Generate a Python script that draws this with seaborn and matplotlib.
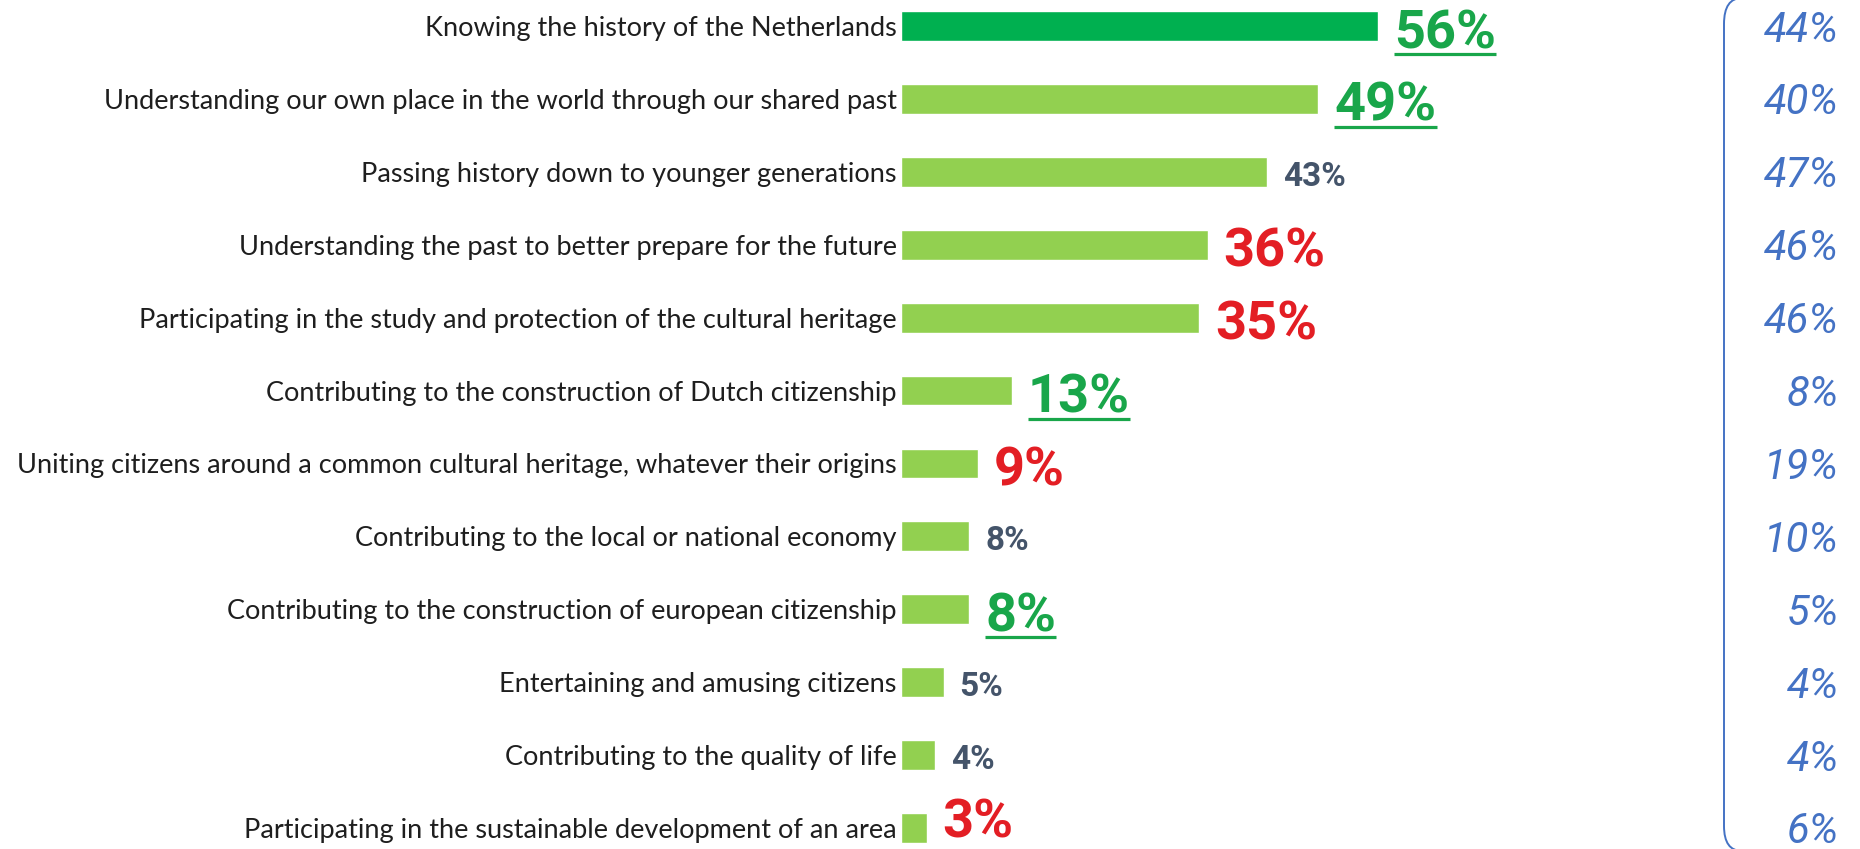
import numpy as np
import pandas as pd
import seaborn as sns
import matplotlib
matplotlib.use("Agg")
import matplotlib.pyplot as plt
from matplotlib.path import Path
from matplotlib.patches import PathPatch
from matplotlib.lines import Line2D
from matplotlib.transforms import ScaledTranslation, blended_transform_factory

# ---------------- data ----------------
categories = [
    "Knowing the history of the Netherlands",
    "Understanding our own place in the world through our shared past",
    "Passing history down to younger generations",
    "Understanding the past to better prepare for the future",
    "Participating in the study and protection of the cultural heritage",
    "Contributing to the construction of Dutch citizenship",
    "Uniting citizens around a common cultural heritage, whatever their origins",
    "Contributing to the local or national economy",
    "Contributing to the construction of european citizenship",
    "Entertaining and amusing citizens",
    "Contributing to the quality of life",
    "Participating in the sustainable development of an area",
]
values = [56, 49, 43, 36, 35, 13, 9, 8, 8, 5, 4, 3]
compare_values = [44, 40, 47, 46, 46, 8, 19, 10, 5, 4, 4, 6]
change = ["up", "up", "same", "down", "down", "up", "down", "same", "up", "same", "same", "down"]
value_labels = [f"{v}%" for v in values]
compare_labels = [f"{v}%" for v in compare_values]

# ---------------- layout ----------------
W, H, DPI = 1860, 849, 100
sns.set_theme(style="white")
plt.rcParams['font.family'] = ['Lato', 'DejaVu Sans']

fig = plt.figure(figsize=(W / DPI, H / DPI), dpi=DPI)
fig.patch.set_facecolor("white")
x0_px = 901
px_per_unit = 8.52
row_px = 72.9
ax = fig.add_axes([x0_px / W, 0, 1 - x0_px / W, 1])
ax.set_facecolor("white")

df = pd.DataFrame({"category": categories, "value": values})
bar_colors = ["#00B050"] + ["#92D050"] * (len(categories) - 1)
sns.barplot(data=df, x="value", y="category", hue="category", palette=bar_colors,
            legend=False, width=0.41, saturation=1, orient="h", ax=ax)

ax.set_xlim(0, (W - x0_px) / px_per_unit)
ax.set_ylim(11 + 21 / row_px, -26 / row_px)
for s in ax.spines.values():
    s.set_visible(False)
ax.set_xticks([])
ax.set_xlabel("")
ax.set_ylabel("")
ax.tick_params(axis="y", length=0, pad=3)
for lab in ax.get_yticklabels():
    lab.set_fontsize(19.5)
    lab.set_color("#1e1e1e")
    lab.set_family(["Lato", "DejaVu Sans"])

# ---------------- value labels ----------------
styles = {
    "up": dict(color="#19a64a", size=39, dy=22, under=True),
    "down": dict(color="#e31e24", size=39, dy=22, under=False),
    "same": dict(color="#44546a", size=24, dy=14, under=False),
}
texts = []
for i, (v, lab, ch) in enumerate(zip(values, value_labels, change)):
    st = styles[ch]
    tr = ax.transData + ScaledTranslation(16 / DPI, -st["dy"] / DPI, fig.dpi_scale_trans)
    t = ax.text(v, i, lab, transform=tr, ha="left", va="baseline",
                fontsize=st["size"], color=st["color"], fontweight="bold",
                family=["Roboto", "DejaVu Sans"])
    texts.append([t, tr, v, i, st])

# ---------------- right-hand comparison labels ----------------
btr = blended_transform_factory(fig.transFigure, ax.transData) + \
    ScaledTranslation(0, -4 / DPI, fig.dpi_scale_trans)
for i, lab in enumerate(compare_labels):
    ax.text(1839 / W, i, lab, transform=btr, ha="right", va="center",
            fontsize=30, color="#4472C4", style="italic", family=["Roboto", "DejaVu Sans"])

# bracket line
def fp(x, ytop):
    return (x / W, (H - ytop) / H)

verts = [fp(1742, -2), fp(1724, -2), fp(1724, 24), fp(1724, 826), fp(1724, 851), fp(1742, 851)]
codes = [Path.MOVETO, Path.CURVE3, Path.CURVE3, Path.LINETO, Path.CURVE3, Path.CURVE3]
fig.add_artist(PathPatch(Path(verts, codes), transform=fig.transFigure,
                         facecolor="none", edgecolor="#4472C4", linewidth=1.4))

# keep value labels inside the canvas, then underline the highlighted ones
fig.canvas.draw()
renderer = fig.canvas.get_renderer()
for item in texts:
    t, tr, v, i, st = item
    bb = t.get_window_extent(renderer)
    if bb.y0 < 1:
        shift = (1 - bb.y0) / DPI
        tr = ax.transData + ScaledTranslation(16 / DPI, -st["dy"] / DPI + shift, fig.dpi_scale_trans)
        t.set_transform(tr)
        item[1] = tr
fig.canvas.draw()
for t, tr, v, i, st in texts:
    if not st["under"]:
        continue
    bb = t.get_window_extent(renderer)
    base_y = tr.transform((v, i))[1]
    y = base_y - 6
    fig.add_artist(Line2D([bb.x0 / W, bb.x1 / W], [y / H, y / H], transform=fig.transFigure,
                          color=st["color"], linewidth=2.3, solid_capstyle="butt"))

fig.savefig("out.png", dpi=DPI, facecolor="white")
